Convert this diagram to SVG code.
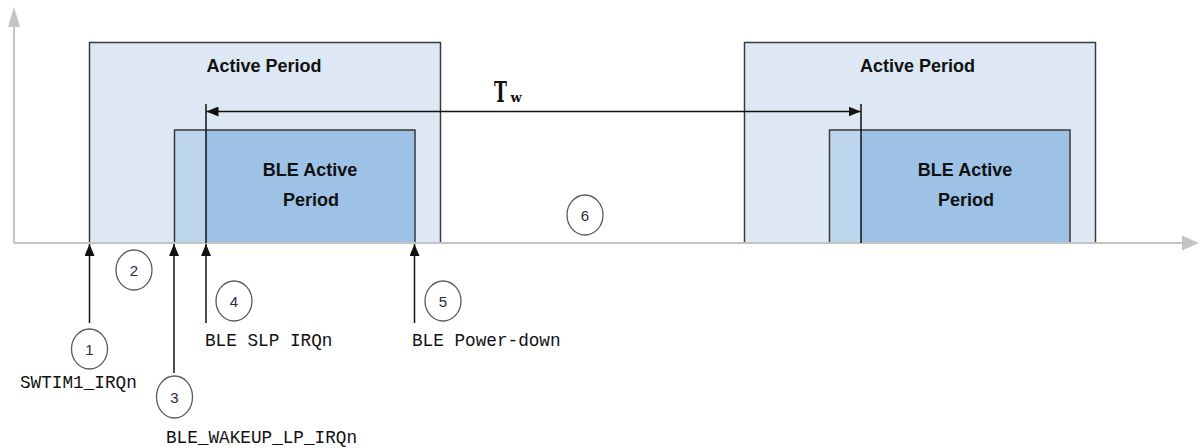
<svg xmlns="http://www.w3.org/2000/svg" width="1200" height="448" viewBox="0 0 1200 448">
<defs>
<style>
.active{fill:#dde8f4;stroke:#3a3a3a;stroke-width:1.5}
.blelight{fill:#bdd6ee;stroke:none}
.bledark{fill:#9dc2e5;stroke:none}
.bleframe{fill:none;stroke:#3a3a3a;stroke-width:1.5}
.title{font-family:"Liberation Sans",Arial,sans-serif;font-weight:bold;font-size:18px;fill:#111;text-anchor:middle}
.axis{stroke:#c4c4c4;stroke-width:2;fill:none}
.axhead{fill:#c4c4c4}
.conn{stroke:#111;stroke-width:1.5;fill:none}
.bub{fill:#fff;stroke:#5a5a5a;stroke-width:1.3}
.num{font-family:"Liberation Sans",Arial,sans-serif;font-size:15px;fill:#1f2a44;text-anchor:middle}
.lbl{font-family:"Liberation Mono","Courier New",monospace;font-size:17.7px;fill:#111}
.tw{font-family:"DejaVu Serif","Liberation Serif",serif;font-weight:bold;fill:#111}
</style>
<marker id="ah" viewBox="0 0 12 10" refX="12" refY="5" markerWidth="12" markerHeight="10" markerUnits="userSpaceOnUse" orient="auto">
<path d="M0,0 L12,5 L0,10 Z" fill="#111"/>
</marker>
</defs>
<rect width="1200" height="448" fill="#fff"/>

<g id="active1">
<rect class="active" x="89.5" y="42.5" width="351" height="200.5"/>
<text class="title" x="264" y="72">Active Period</text>
</g>
<g id="ble1">
<rect class="blelight" x="174" y="130" width="241" height="113"/>
<rect class="bledark" x="206" y="130" width="209" height="113"/>
<rect class="bleframe" x="174.5" y="130" width="240.5" height="113"/>
<text class="title" x="310" y="176">BLE Active</text>
<text class="title" x="311" y="206">Period</text>
</g>
<g id="active2">
<rect class="active" x="744.5" y="42.5" width="351" height="200.5"/>
<text class="title" x="917.5" y="72">Active Period</text>
</g>
<g id="ble2">
<rect class="blelight" x="829" y="130" width="241" height="113"/>
<rect class="bledark" x="861" y="130" width="209" height="113"/>
<rect class="bleframe" x="829.5" y="130" width="240.5" height="113"/>
<text class="title" x="965" y="176">BLE Active</text>
<text class="title" x="966" y="206">Period</text>
</g>

<g id="axes">
<line class="axis" x1="14" y1="243" x2="14" y2="26"/>
<polygon class="axhead" points="14,7 8,27 20,27"/>
<line class="axis" x1="14" y1="243" x2="1183" y2="243"/>
<polygon class="axhead" points="1199,243 1182,235.5 1182,250.5"/>
</g>

<g id="tw">
<line class="conn" x1="206" y1="104" x2="206" y2="243"/>
<line class="conn" x1="861" y1="104" x2="861" y2="243"/>
<line class="conn" x1="530" y1="111.5" x2="206.5" y2="111.5" marker-end="url(#ah)"/>
<line class="conn" x1="530" y1="111.5" x2="860.5" y2="111.5" marker-end="url(#ah)"/>
<text class="tw" x="0" y="0" transform="translate(494,101.5) scale(0.62,1)" font-size="28">T</text>
<text class="tw" x="510.5" y="101.5" font-size="13">w</text>
</g>

<g id="connectors">
<line class="conn" x1="89.5" y1="323" x2="89.5" y2="244" marker-end="url(#ah)"/>
<line class="conn" x1="174" y1="373" x2="174" y2="244" marker-end="url(#ah)"/>
<line class="conn" x1="206" y1="323" x2="206" y2="244" marker-end="url(#ah)"/>
<line class="conn" x1="414.5" y1="323" x2="414.5" y2="244" marker-end="url(#ah)"/>
</g>

<g id="step1">
<ellipse class="bub" cx="89.5" cy="349" rx="18" ry="20"/>
<text class="num" x="89.5" y="354.5">1</text>
<text class="lbl" x="20" y="388">SWTIM1_IRQn</text>
</g>
<g id="step2">
<ellipse class="bub" cx="134" cy="270" rx="18" ry="20"/>
<text class="num" x="134" y="275.5">2</text>
</g>
<g id="step3">
<ellipse class="bub" cx="174.5" cy="397" rx="18" ry="21"/>
<text class="num" x="174.5" y="402.5">3</text>
<text class="lbl" x="166" y="443">BLE_WAKEUP_LP_IRQn</text>
</g>
<g id="step4">
<ellipse class="bub" cx="234" cy="301" rx="18" ry="20"/>
<text class="num" x="234" y="306.5">4</text>
<text class="lbl" x="205" y="346">BLE SLP IRQn</text>
</g>
<g id="step5">
<ellipse class="bub" cx="443" cy="301" rx="18" ry="20"/>
<text class="num" x="443" y="306.5">5</text>
<text class="lbl" x="412" y="346">BLE Power-down</text>
</g>
<g id="step6">
<ellipse class="bub" cx="585" cy="215" rx="18" ry="20"/>
<text class="num" x="585" y="220.5">6</text>
</g>
</svg>
